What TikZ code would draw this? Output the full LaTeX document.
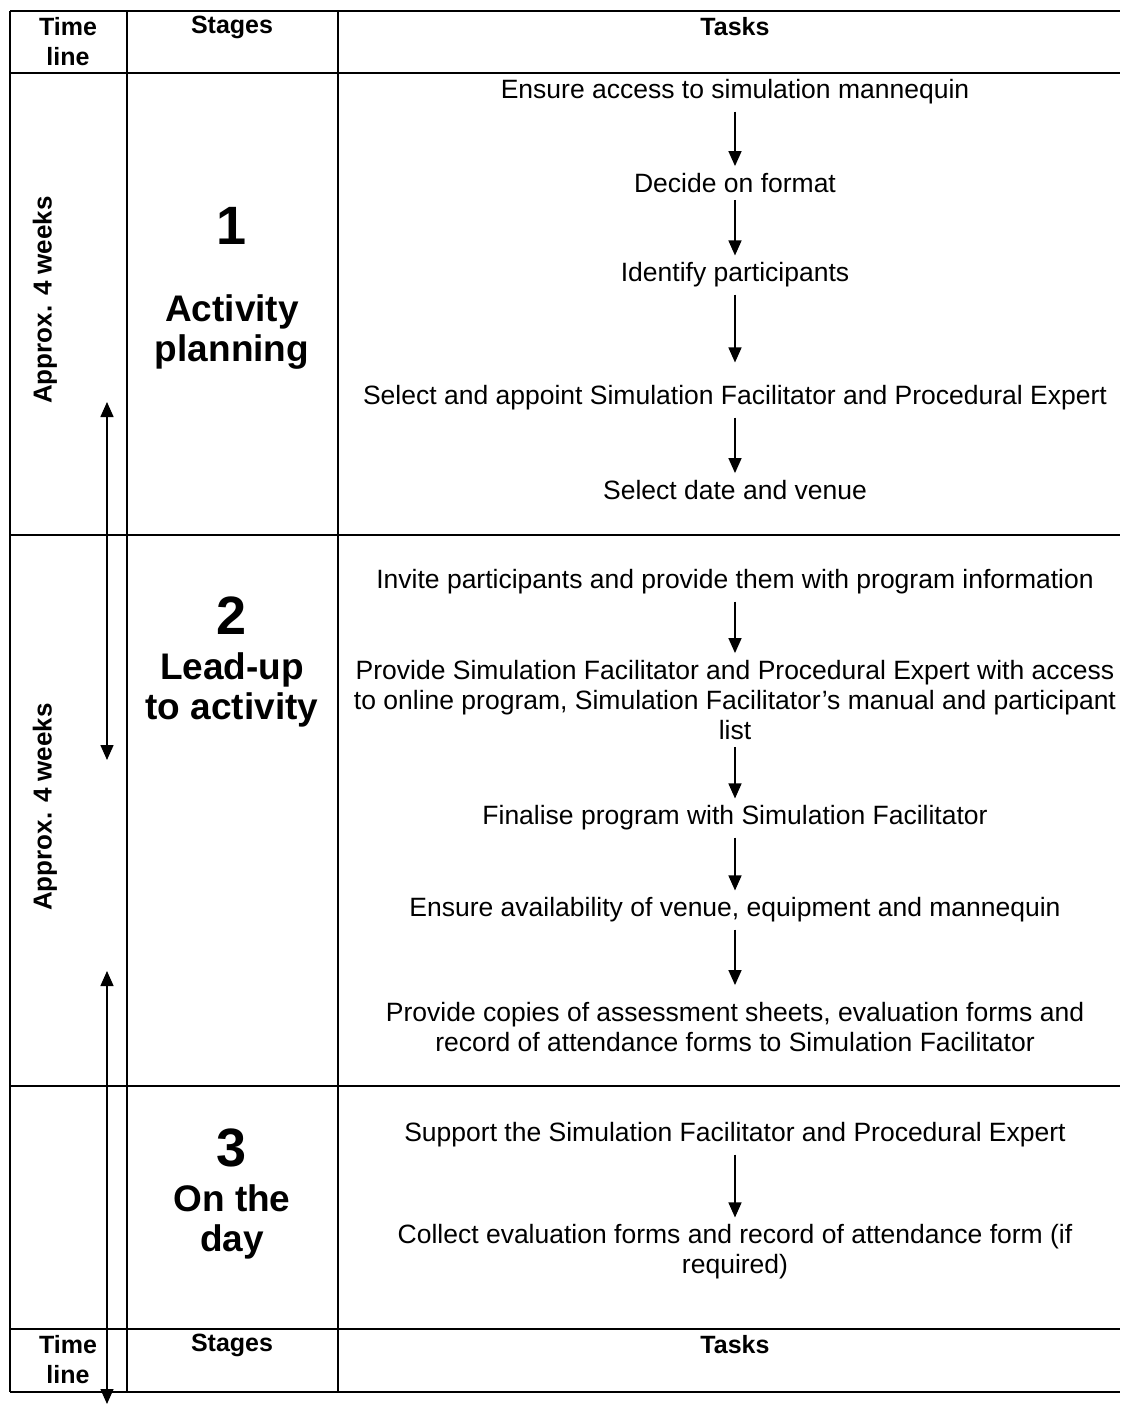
\documentclass[tikz,border=0pt]{standalone}
\usepackage{fontspec}
\setmainfont{Liberation Sans}
\usetikzlibrary{arrows.meta}

\begin{document}
\begin{tikzpicture}[
            x=1pt, y=-1pt,
            >={Triangle[length=15pt,width=13pt]},
            grid/.style={line width=2pt},
            flow/.style={->, line width=1.5pt},
            span/.style={<->, line width=1.5pt},
            task/.style={
                align=center,
                inner sep=7pt,
                font=\fontsize{26.5}{30}\selectfont
            },
            head/.style={
                align=center,
                inner sep=0pt,
                font=\bfseries\fontsize{25}{30}\selectfont
            },
            stagenum/.style={inner sep=0pt, font=\bfseries\fontsize{54}{56}\selectfont},
            stagename/.style={
                align=center,
                inner sep=0pt,
                font=\bfseries\fontsize{37}{40}\selectfont
            },
            weeks/.style={rotate=90, inner sep=0pt, font=\bfseries\fontsize{26}{28}\selectfont}
        ]
            \useasboundingbox (0,0) rectangle (1120,1406);

            % table rules
            \draw[grid] (10,11) -- (1120,11);
            \draw[grid] (10,73) -- (1120,73);
            \draw[grid] (10,535) -- (1120,535);
            \draw[grid] (10,1086) -- (1120,1086);
            \draw[grid] (10,1329) -- (1120,1329);
            \draw[grid] (10,1392) -- (1120,1392);
            \draw[grid] (10,11) -- (10,1392);
            \draw[grid] (127,11) -- (127,1392);
            \draw[grid] (338,11) -- (338,1392);

            % headers
            \node[head] (h1) at (68,42) {Time\\line};
            \node[head] (h2) at (232,27) {Stages};
            \node[head] (h3) at (735,27) {Tasks};
            \node[head] (f1) at (68,1360) {Time\\line};
            \node[head] (f2) at (232,1345) {Stages};
            \node[head] (f3) at (735,1345) {Tasks};

            % time line
            \node[weeks] (w1) at (45,300) {Approx. 4 weeks};
            \node[weeks] (w2) at (45,807) {Approx. 4 weeks};
            \coordinate (w1a) at (107,402);
            \coordinate (w1b) at (107,760);
            \coordinate (w2a) at (107,971);
            \coordinate (w2b) at (107,1404);
            \draw[span] (w1a) -- (w1b);
            \draw[span] (w2a) -- (w2b);

            % stages
            \node[stagenum] (n1) at (232,226) {1};
            \node[stagename] (s1) at (232,332) {Activity\\planning};
            \node[stagenum] (n2) at (232,616) {2};
            \node[stagename] (s2) at (232,690) {Lead-up\\to activity};
            \node[stagenum] (n3) at (232,1148) {3};
            \node[stagename] (s3) at (232,1222) {On the\\day};

            % stage 1 tasks
            \node[task] (a1) at (735,92) {Ensure access to simulation mannequin};
            \node[task] (a2) at (735,183) {Decide on format};
            \node[task] (a3) at (735,275) {Identify participants};
            \node[task] (a4) at (735,398)
                {Select and appoint Simulation Facilitator and Procedural Expert};
            \node[task] (a5) at (735,490) {Select date and venue};

            \draw[flow] (a1) -- (a2);
            \draw[flow] (a2) -- (a3);
            \draw[flow, shorten >=16pt] (a3) -- (a4);
            \draw[flow] (a4) -- (a5);

            % stage 2 tasks
            \node[task] (b1) at (735,582)
                {Invite participants and provide them with program information};
            \node[task] (b2) at (735,700)
                {Provide Simulation Facilitator and Procedural Expert with access\\
                 to online program, Simulation Facilitator’s manual and participant\\
                 list};
            \node[task] (b3) at (735,818) {Finalise program with Simulation Facilitator};
            \node[task] (b4) at (735,910)
                {Ensure availability of venue, equipment and mannequin};
            \node[task] (b5) at (735,1027)
                {Provide copies of assessment sheets, evaluation forms and\\
                 record of attendance forms to Simulation Facilitator};

            \draw[flow] (b1) -- (b2);
            \draw[flow] (b2) -- (b3);
            \draw[flow] (b3) -- (b4);
            \draw[flow, shorten >=10pt] (b4) -- (b5);

            % stage 3 tasks
            \node[task] (c1) at (735,1135)
                {Support the Simulation Facilitator and Procedural Expert};
            \node[task] (c2) at (735,1252)
                {Collect evaluation forms and record of attendance form (if\\
                 required)};

            \draw[flow] (c1) -- (c2);

        \end{tikzpicture}
\end{document}
